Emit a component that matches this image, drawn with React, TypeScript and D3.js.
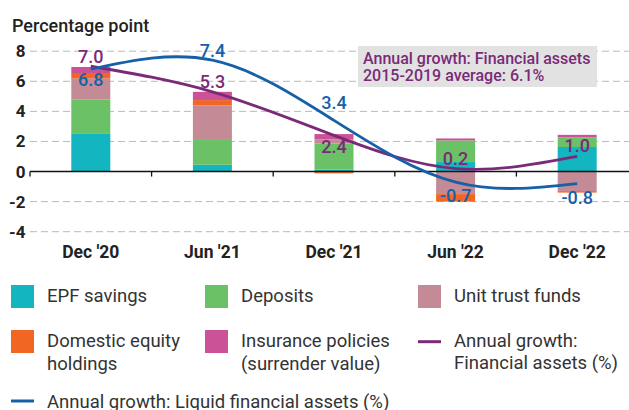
import * as d3 from 'd3'

const periods = ["Dec '20", "Jun '21", "Dec '21", "Jun '22", "Dec '22"]

const epfSavings = [2.5, 0.45, 0.12, 0.63, 1.63]
const deposits = [2.3, 1.65, 1.75, 1.44, 0.64]
const unitTrust = [1.4, 2.3, 0.27, -1.5, -1.3]
const domesticEquity = [0.35, 0.35, -0.12, -0.5, -0.1]
const insurance = [0.4, 0.55, 0.35, 0.13, 0.17]

const financialGrowth = [7.0, 5.3, 2.4, 0.2, 1.0]
const liquidGrowth = [6.8, 7.4, 3.4, -0.7, -0.8]

const yTicks = [-4, -2, 0, 2, 4, 6, 8]

const keys = ['epf', 'deposits', 'unitTrust', 'equity', 'insurance']
const colors: Record<string, string> = {
  epf: '#13b5c0',
  deposits: '#6bc165',
  unitTrust: '#c48a96',
  equity: '#f26623',
  insurance: '#cc5297',
}
const PURPLE = '#7a2a78'
const BLUE = '#1660a8'

// label placement (baseline offset from the point)
const financialDy = [-3, -4, 18, -4, -4]
const liquidDy = [17, -3, -11, 20, 20]

const FONT = 'Roboto, "Noto Sans", sans-serif'

export default function App() {
  const width = 629
  const height = 410

  const x = d3.scaleBand<string>().domain(periods).range([30, 638])
  const y = d3.scaleLinear().domain([-4, 8]).range([231.7, 51.2])
  const barW = 39

  const rows = periods.map((p, i) => ({
    period: p,
    epf: epfSavings[i],
    deposits: deposits[i],
    unitTrust: unitTrust[i],
    equity: domesticEquity[i],
    insurance: insurance[i],
  }))
  const series = d3.stack<any>().keys(keys).offset(d3.stackOffsetDiverging)(rows)

  const cx = (i: number) => (x(periods[i]) ?? 0) + x.bandwidth() / 2

  const line = d3
    .line<number>()
    .x((_, i) => cx(i))
    .y((d) => y(d))
    .curve(d3.curveNatural)

  const boundaries = periods.map((p) => x(p) ?? 0)

  const legendBoxes = [
    { key: 'epf', lines: ['EPF savings'], x: 11, y: 285 },
    { key: 'deposits', lines: ['Deposits'], x: 205, y: 285 },
    { key: 'unitTrust', lines: ['Unit trust funds'], x: 418, y: 285 },
    { key: 'equity', lines: ['Domestic equity', 'holdings'], x: 11, y: 330 },
    { key: 'insurance', lines: ['Insurance policies', '(surrender value)'], x: 205, y: 330 },
  ]

  return (
    <svg
      width={width}
      height={height}
      style={{ position: 'absolute', left: 0, top: 0, background: '#fff' }}
      fontFamily={FONT}
    >
      <text x={12} y={31.5} fontSize={18} fontWeight={500} fill="#222">
        Percentage point
      </text>

      {yTicks.map((t) => (
        <g key={t}>
          {t !== 0 && (
            <line
              x1={30}
              x2={width}
              y1={y(t)}
              y2={y(t)}
              stroke="#b9b9b9"
              strokeWidth={1}
              strokeDasharray="7,4"
            />
          )}
          <text x={25.5} y={y(t) + 6} textAnchor="end" fontSize={17} fontWeight={700} fill="#222">
            {t}
          </text>
        </g>
      ))}

      {series.map((s) => (
        <g key={s.key} fill={colors[s.key]}>
          {s.map((d, i) => (
            <rect
              key={i}
              x={cx(i) - barW / 2}
              width={barW}
              y={y(Math.max(d[0], d[1]))}
              height={Math.abs(y(d[0]) - y(d[1]))}
            />
          ))}
        </g>
      ))}

      <line x1={30} x2={width} y1={y(0)} y2={y(0)} stroke="#111" strokeWidth={1.5} />
      {boundaries.map((b, i) => (
        <line key={i} x1={b} x2={b} y1={y(0)} y2={y(0) + 5} stroke="#111" strokeWidth={1.3} />
      ))}

      {periods.map((p, i) => (
        <text key={p} x={cx(i)} y={257.5} textAnchor="middle" fontSize={17.5} fontWeight={700} fill="#222">
          {p}
        </text>
      ))}

      <rect x={358} y={46} width={239} height={41} fill="#e2e2e3" />
      <text x={363} y={64} fontSize={16} fontWeight={500} fill={PURPLE}>
        Annual growth: Financial assets
      </text>
      <text x={363} y={80.5} fontSize={16} fontWeight={500} fill={PURPLE}>
        2015-2019 average: 6.1%
      </text>

      <path d={line(financialGrowth) ?? ''} fill="none" stroke={PURPLE} strokeWidth={2.8} />
      <path d={line(liquidGrowth) ?? ''} fill="none" stroke={BLUE} strokeWidth={2.8} />

      {financialGrowth.map((v, i) => (
        <text
          key={'f' + i}
          x={cx(i)}
          y={y(v) + financialDy[i]}
          textAnchor="middle"
          fontSize={18}
          fontWeight={500}
          fill={PURPLE}
        >
          {v.toFixed(1)}
        </text>
      ))}
      {liquidGrowth.map((v, i) => (
        <text
          key={'l' + i}
          x={cx(i)}
          y={y(v) + liquidDy[i]}
          textAnchor="middle"
          fontSize={18}
          fontWeight={500}
          fill={BLUE}
        >
          {v.toFixed(1)}
        </text>
      ))}

      {legendBoxes.map((b) => (
        <g key={b.key}>
          <rect x={b.x} y={b.y} width={23} height={23} fill={colors[b.key]} />
          {b.lines.map((l, j) => (
            <text key={j} x={b.x + 36} y={b.y + 17 + j * 22.6} fontSize={18.5} fill="#333">
              {l}
            </text>
          ))}
        </g>
      ))}

      <line x1={418} x2={441} y1={341.7} y2={341.7} stroke={PURPLE} strokeWidth={3} />
      <text x={454} y={346.7} fontSize={18.5} fill="#333">
        Annual growth:
      </text>
      <text x={454} y={369.3} fontSize={18.5} fill="#333">
        Financial assets (%)
      </text>

      <line x1={11} x2={34} y1={401} y2={401} stroke={BLUE} strokeWidth={3} />
      <text x={47} y={407.5} fontSize={18.5} fill="#333">
        Annual growth: Liquid financial assets (%)
      </text>
    </svg>
  )
}
